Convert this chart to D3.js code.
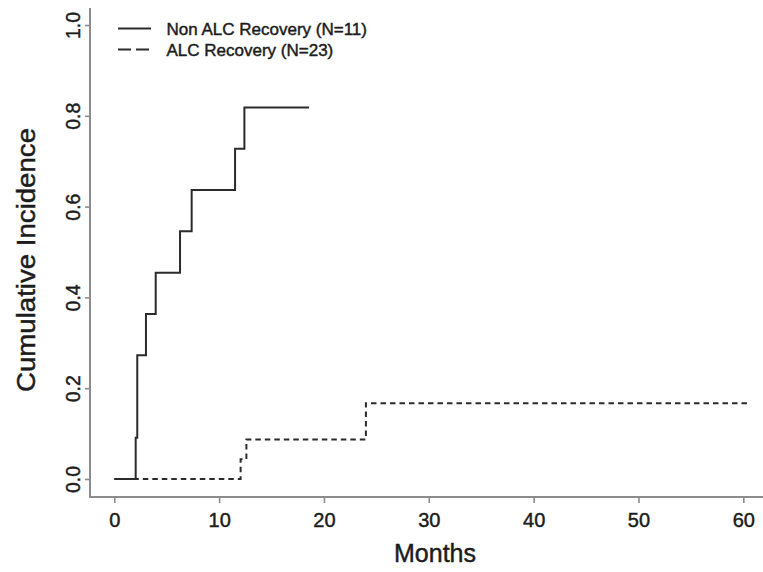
<!DOCTYPE html>
<html>
<head>
<meta charset="utf-8">
<script src="https://cdn.jsdelivr.net/npm/d3@7/dist/d3.min.js"></script>
<style>
  html, body { margin: 0; padding: 0; background: #ffffff; }
  svg { display: block; }
  text { font-family: "Liberation Sans", Arial, Helvetica, sans-serif; fill: #1c1c1c; stroke: #1c1c1c; stroke-width: 0.45px; }
</style>
</head>
<body>
<svg id="chart" width="763" height="572"></svg>
<script>
// ---- data ----
const nonAlcTimes     = [0, 2.04, 2.19, 3.02, 3.95, 6.27, 7.38, 11.52, 12.41, 18.58];
const nonAlcIncidence = [0, 1/11, 3/11, 4/11, 5/11, 6/11, 7/11, 8/11, 9/11, 9/11];
const alcTimes        = [0, 12.05, 12.6, 24.0, 60.7];
const alcIncidence    = [0, 1/23, 2/23, 0.167, 0.167];
const xTicks      = [0, 10, 20, 30, 40, 50, 60];
const yTicks      = [0, 0.2, 0.4, 0.6, 0.8, 1.0];
const yTickLabels = ["0.0", "0.2", "0.4", "0.6", "0.8", "1.0"];
const legendLabels = ["Non ALC Recovery (N=11)", "ALC Recovery (N=23)"];
const xTitle = "Months";
const yTitle = "Cumulative Incidence";

// ---- layout ----
const svg = d3.select("#chart");
const x = d3.scaleLinear().domain([0, 60]).range([114.3, 743.3]);
const y = d3.scaleLinear().domain([0, 1]).range([479, 25]);
const axisX = 90, axisY = 497;
const axisColor = "#8c8c8c";
const curveColor = "#2b2b2b";

// L-shaped frame
svg.append("line").attr("x1", axisX).attr("x2", axisX).attr("y1", 8).attr("y2", axisY + 1)
  .attr("stroke", axisColor).attr("stroke-width", 2);
svg.append("line").attr("x1", axisX - 1).attr("x2", 763).attr("y1", axisY).attr("y2", axisY)
  .attr("stroke", axisColor).attr("stroke-width", 2);

// bottom axis
const gx = svg.append("g").attr("transform", `translate(0,${axisY})`)
  .call(d3.axisBottom(x).tickValues(xTicks).tickFormat(d3.format("d")).tickSize(6).tickSizeOuter(0));
gx.select(".domain").remove();
gx.selectAll(".tick line").attr("stroke", axisColor).attr("stroke-width", 1.6);
gx.selectAll(".tick text").attr("y", 0).attr("dy", null).attr("dominant-baseline", "central")
  .attr("transform", "translate(0,23)")
  .style("font-size", "20px").style("fill", "#1c1c1c");

// left axis
const gy = svg.append("g").attr("transform", `translate(${axisX},0)`)
  .call(d3.axisLeft(y).tickValues(yTicks).tickFormat((d, i) => yTickLabels[i]).tickSize(5).tickSizeOuter(0));
gy.select(".domain").remove();
gy.selectAll(".tick line").attr("stroke", axisColor).attr("stroke-width", 1.6);
gy.selectAll(".tick text")
  .attr("x", 0).attr("dy", null).attr("y", -10)
  .attr("transform", "rotate(-90)")
  .attr("text-anchor", "middle")
  .style("font-size", "19.5px").style("fill", "#1c1c1c");

// axis titles
svg.append("text").attr("x", 435).attr("y", 561.5).attr("text-anchor", "middle")
  .style("font-size", "25px").text(xTitle);
svg.append("text").attr("transform", "translate(35,260) rotate(-90)").attr("text-anchor", "middle")
  .attr("textLength", 264).attr("lengthAdjust", "spacingAndGlyphs")
  .style("font-size", "25px").text(yTitle);

// curves
const line = d3.line().x(d => x(d[0])).y(d => y(d[1])).curve(d3.curveStepAfter);
const nonAlc = nonAlcTimes.map((t, i) => [t, nonAlcIncidence[i]]);
const alc = alcTimes.map((t, i) => [t, alcIncidence[i]]);

svg.append("path").datum(alc).attr("d", line)
  .attr("fill", "none").attr("stroke", curveColor).attr("stroke-width", 2)
  .attr("stroke-dasharray", "5.5,4");
svg.append("path").datum(nonAlc).attr("d", line)
  .attr("fill", "none").attr("stroke", curveColor).attr("stroke-width", 2);

// legend
const legendRows = [
  { label: legendLabels[0], dash: null, ly: 28.5, ty: 34.5 },
  { label: legendLabels[1], dash: "13,5", ly: 49.5, ty: 55.5 }
];
legendRows.forEach(r => {
  const l = svg.append("line").attr("x1", 118).attr("x2", 151).attr("y1", r.ly).attr("y2", r.ly)
    .attr("stroke", curveColor).attr("stroke-width", 2.2);
  if (r.dash) l.attr("stroke-dasharray", r.dash);
  svg.append("text").attr("x", 166.5).attr("y", r.ty).style("font-size", "17px").text(r.label);
});
</script>
</body>
</html>
